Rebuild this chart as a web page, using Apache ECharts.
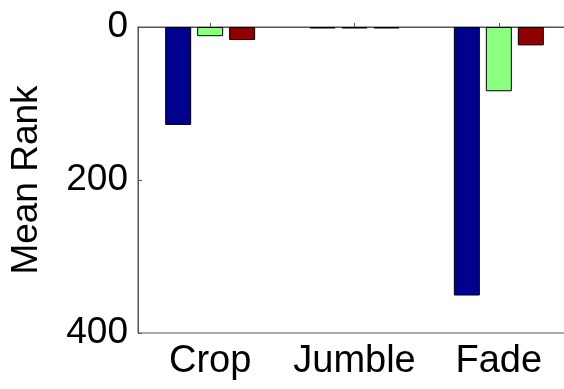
<!DOCTYPE html>
<html><head><meta charset="utf-8">
<script src="https://cdn.jsdelivr.net/npm/echarts@6/dist/echarts.min.js"></script>
<style>html,body{margin:0;padding:0;background:#fff}#c{width:564px;height:389px}</style>
</head><body><div id="c"></div>
<script>
const categories = ['Crop', 'Jumble', 'Fade'];
const seriesA = [128, 2, 351];
const seriesB = [12, 2, 84];
const seriesC = [17, 2, 24];
const yTicks = [0, 200, 400];

const chart = echarts.init(document.getElementById('c'));
const font = 'Liberation Sans, Arial, sans-serif';
function bar(data, color) {
  return { type: 'bar', data: data, barWidth: 26, barGap: '23%',
    itemStyle: { color: color, borderColor: '#000', borderWidth: 1 }, animation: false };
}
chart.setOption({
  animation: false,
  grid: { left: 138, width: 433, top: 27, height: 306, outerBoundsMode: 'none', containLabel: false,
    show: true, borderColor: '#555', borderWidth: 1, backgroundColor: '#fff' },
  xAxis: {
    type: 'category', data: categories,
    axisLine: { lineStyle: { color: '#555' } },
    axisTick: { show: true, inside: true, alignWithLabel: true, length: 4, lineStyle: { color: '#555' } },
    axisLabel: { color: '#000', fontSize: 38, fontFamily: font, margin: 10, interval: 0, hideOverlap: false }
  },
  yAxis: {
    type: 'value', inverse: true, min: yTicks[0], max: yTicks[yTicks.length - 1], interval: 200,
    name: 'Mean Rank', nameLocation: 'middle', nameGap: 93, nameRotate: 90,
    nameTextStyle: { color: '#000', fontSize: 37, fontFamily: font },
    axisLine: { show: true, lineStyle: { color: '#555' } },
    axisTick: { show: true, inside: true, length: 4, lineStyle: { color: '#555' } },
    splitLine: { show: false },
    axisLabel: { color: '#000', fontSize: 37, fontFamily: font, margin: 10 }
  },
  series: [bar(seriesA, '#00008f'), bar(seriesB, '#8cff80'), bar(seriesC, '#8f0000')]
});
</script></body></html>
